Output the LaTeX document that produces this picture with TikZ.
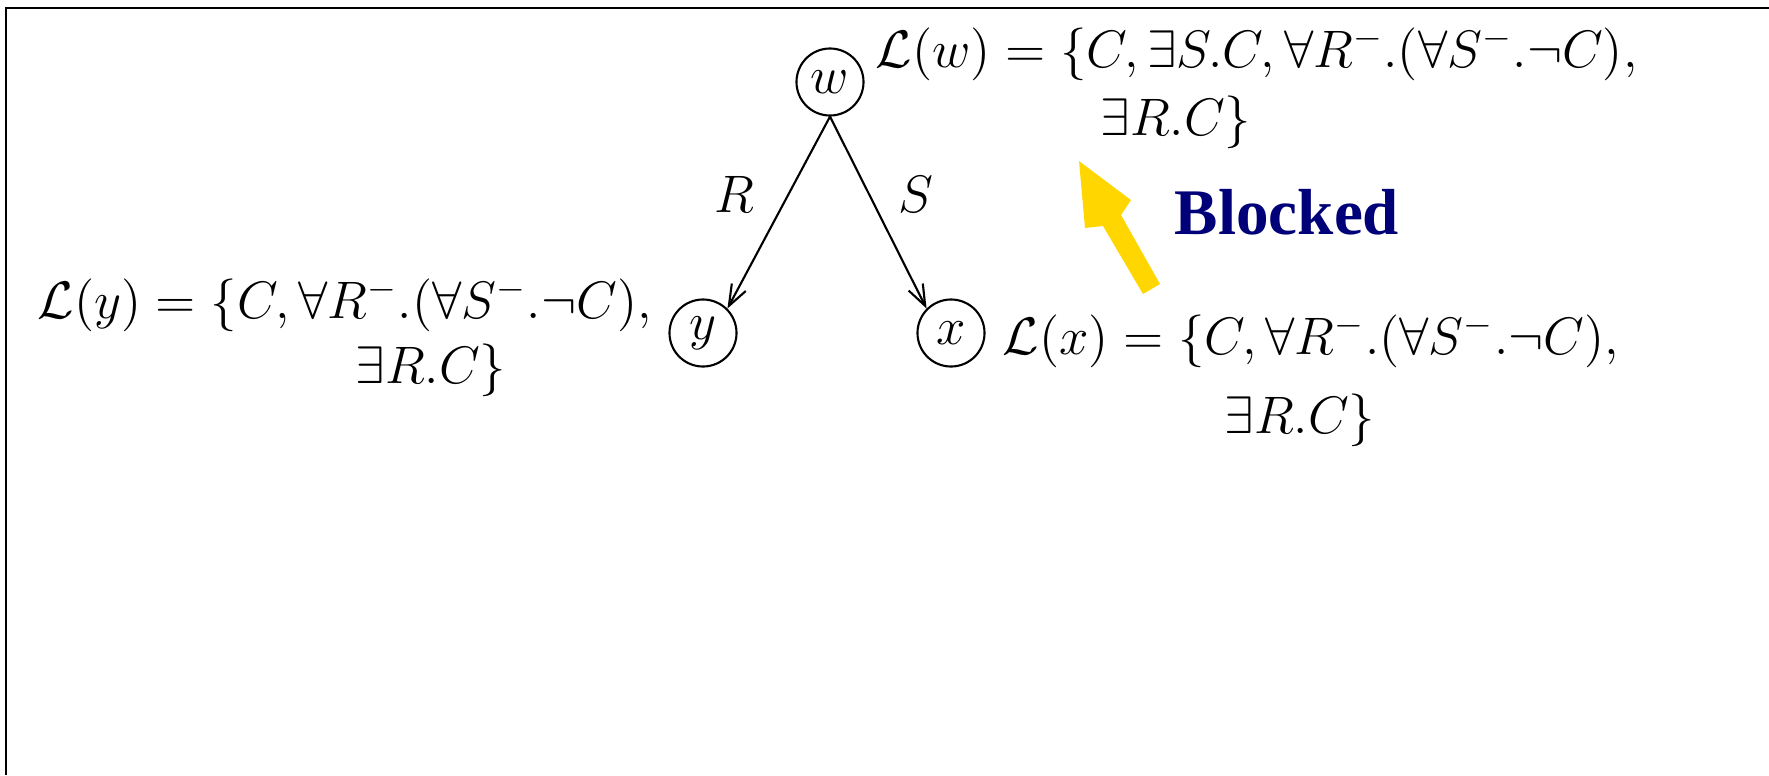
\RequirePackage{fix-cm}
\documentclass[tikz,border=0pt]{standalone}
\usepackage[no-math]{fontspec}
\newfontfamily\blkfont{Liberation Serif}
\usetikzlibrary{arrows.meta}
\definecolor{navyblk}{RGB}{0,0,120}
\definecolor{goldarrow}{RGB}{255,214,0}
\newcommand\lblsize{\fontsize{15}{18}\selectfont}
\begin{document}
\begin{tikzpicture}[x=0.01cm,y=-0.01cm,
  frame/.style={line width=0.75pt},
  state/.style={draw,circle,line width=0.6pt,minimum size=0.67cm,inner sep=0pt,font=\lblsize},
  edge/.style={line width=0.6pt,-{Straight Barb[length=6pt,width=4.5pt]}},
  lbl/.style={inner sep=0pt,anchor=west,font=\lblsize},
  elbl/.style={inner sep=0pt,font=\lblsize},
  blocked/.style={inner sep=0pt,font=\blkfont\bfseries\fontsize{18.5}{22}\selectfont,text=navyblk}]
\useasboundingbox (0,0) rectangle (1769,775);
\coordinate (fbl) at (6,775);
\coordinate (ftl) at (6,8);
\coordinate (ftr) at (1769,8);
\draw[frame] (fbl) -- (ftl) -- (ftr);

\node[state] (w) at (830,82) {$w$};
\node[state] (y) at (703,333) {$y$};
\node[state] (x) at (951,333) {$x$};
\draw[edge] (w.south) -- (y.north east);
\draw[edge] (w.south) -- (x.north west);
\node[elbl] (lR) at (734,194) {$R$};
\node[elbl] (lS) at (916,194) {$S$};

\node[lbl] (Lw1) at (875,54) {$\mathcal{L}(w) = \{C, \exists S.C, \forall R^-.(\forall S^-.\neg C),$};
\node[lbl] (Lw2) at (1100,122) {$\exists R.C\}$};
\node[lbl] (Ly1) at (37,305) {$\mathcal{L}(y) = \{C, \forall R^-.(\forall S^-.\neg C),$};
\node[lbl] (Ly2) at (355,370) {$\exists R.C\}$};
\node[lbl] (Lx1) at (1002,341) {$\mathcal{L}(x) = \{C, \forall R^-.(\forall S^-.\neg C),$};
\node[lbl] (Lx2) at (1224,420) {$\exists R.C\}$};

\node[blocked] (bl) at (1287,212) {Blocked};
\fill[goldarrow] (1143,294) -- (1103,226) -- (1085,228) -- (1079,161) -- (1131,200) -- (1121,215) -- (1160,284) -- cycle;
\end{tikzpicture}
\end{document}
